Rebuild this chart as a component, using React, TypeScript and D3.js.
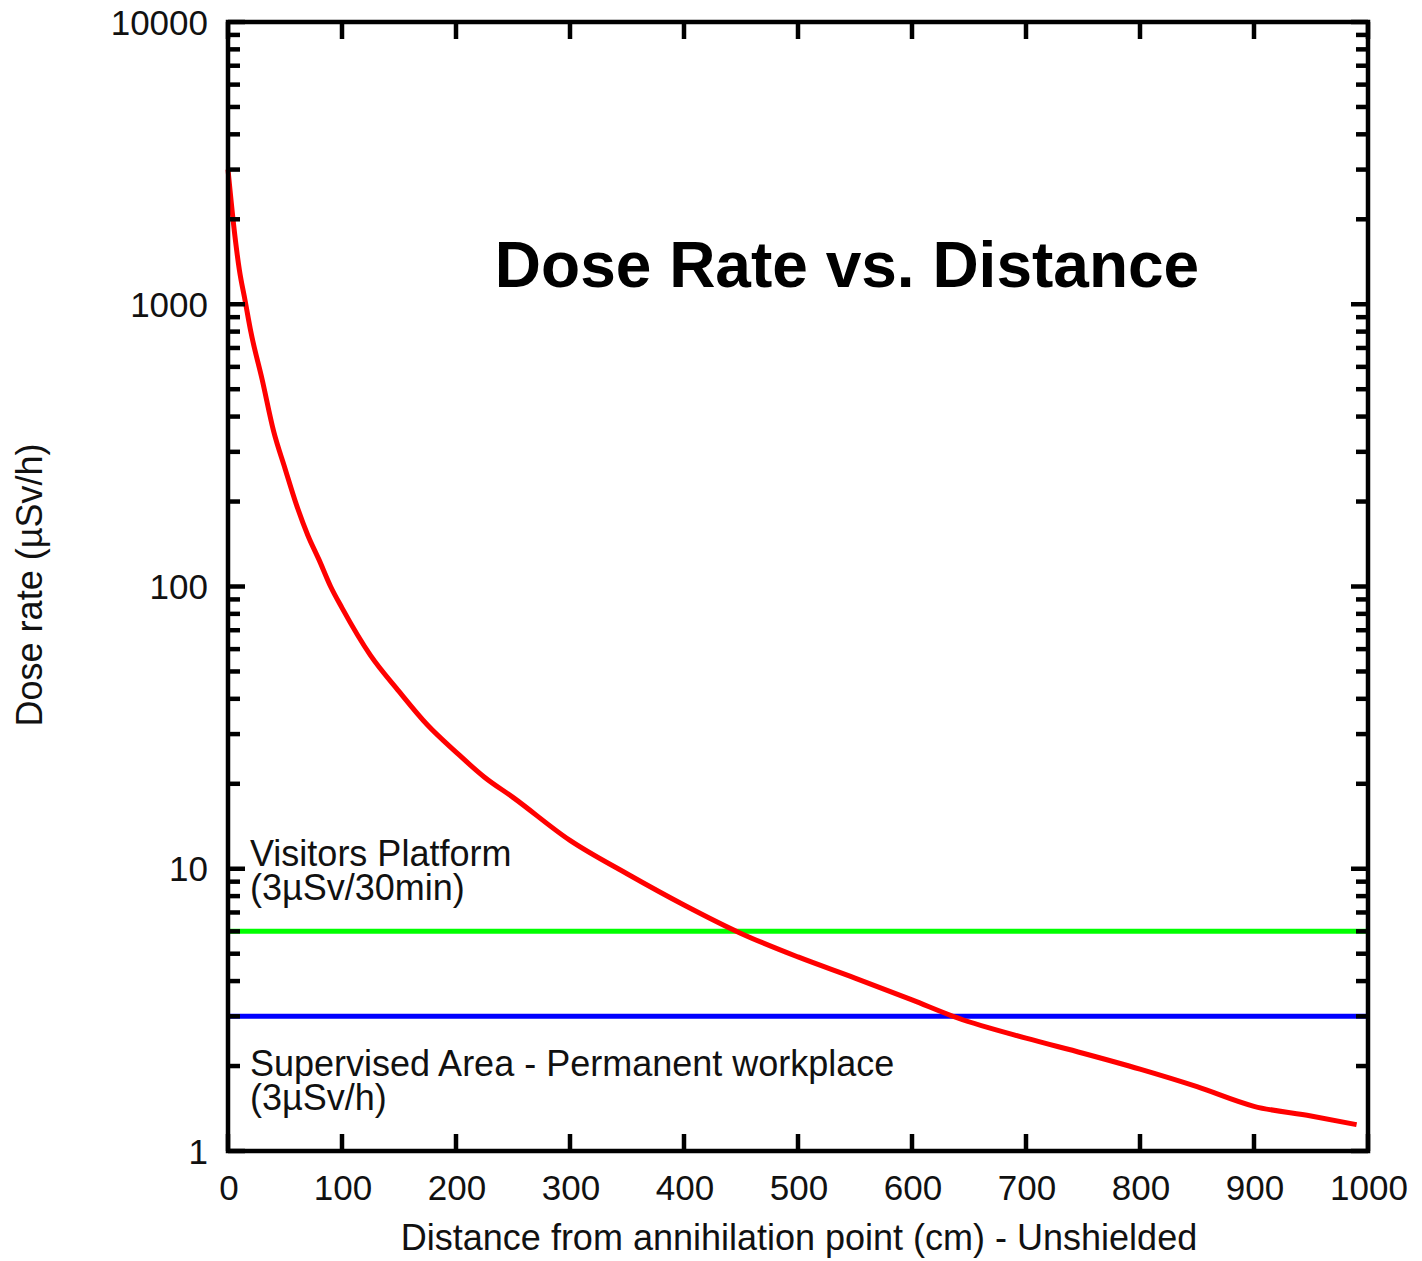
import React, { useEffect, useRef } from "react";
import * as d3 from "d3";

// distance from annihilation point (cm) and dose rate (µSv/h)
const distances = [0, 5, 10, 15, 20, 30, 40, 50, 60, 70, 80, 90, 100, 125, 150, 175, 200, 225, 250, 300, 350, 400, 450, 500, 550, 600, 640, 700, 750, 800, 850, 900, 950, 990];
const doseRates = [3000, 1900, 1320, 1030, 800, 540, 355, 262, 195, 152, 124, 100, 84, 57, 42.5, 32.3, 25.9, 21.1, 17.9, 12.6, 9.6, 7.44, 5.9, 4.87, 4.1, 3.43, 2.96, 2.51, 2.22, 1.95, 1.69, 1.44, 1.33, 1.24];

// horizontal limit lines
const limitNames = ["Visitors Platform", "Supervised Area"];
const limitValues = [6, 3];
const limitColors = ["#00ff00", "#0000ff"];

const xTickValues = [0, 100, 200, 300, 400, 500, 600, 700, 800, 900, 1000];
const yTickValues = [1, 10, 100, 1000, 10000];

const FONT = "'Liberation Sans', Arial, Helvetica, sans-serif";

const App = () => {
  const svgRef = useRef<SVGSVGElement>(null);

  useEffect(() => {
    const width = 1422;
    const height = 1261;
    const margin = { top: 22, right: 54, bottom: 110, left: 228 };

    const svg = d3.select(svgRef.current);
    svg.selectAll("*").remove();

    const x = d3.scaleLinear()
      .domain([0, 1000])
      .range([margin.left, width - margin.right]);

    const y = d3.scaleLog()
      .domain([1, 10000])
      .range([height - margin.bottom, margin.top]);

    const [x0, x1] = x.range();
    const [y0, y1] = y.range();

    // limit lines
    limitValues.forEach((v, i) => {
      svg.append("line")
        .attr("x1", x0).attr("x2", x1)
        .attr("y1", y(v)).attr("y2", y(v))
        .attr("stroke", limitColors[i])
        .attr("stroke-width", 5);
    });

    // dose rate curve
    const line = d3.line<number>()
      .x((d, i) => x(distances[i]))
      .y(d => y(d))
      .curve(d3.curveMonotoneX);

    svg.append("path")
      .datum(doseRates)
      .attr("d", line)
      .attr("fill", "none")
      .attr("stroke", "#ff0000")
      .attr("stroke-width", 5);

    // ticks (inside, on all four sides)
    const ticks = svg.append("g").attr("stroke", "#000").attr("stroke-width", 4.5);
    y.ticks().forEach(t => {
      const major = yTickValues.includes(t);
      const len = major ? 17 : 12;
      ticks.append("line").attr("x1", x0).attr("x2", x0 + len).attr("y1", y(t)).attr("y2", y(t));
      ticks.append("line").attr("x1", x1).attr("x2", x1 - len).attr("y1", y(t)).attr("y2", y(t));
    });
    xTickValues.forEach(t => {
      ticks.append("line").attr("x1", x(t)).attr("x2", x(t)).attr("y1", y0).attr("y2", y0 - 17);
      ticks.append("line").attr("x1", x(t)).attr("x2", x(t)).attr("y1", y1).attr("y2", y1 + 17);
    });

    // frame
    svg.append("rect")
      .attr("x", x0).attr("y", y1)
      .attr("width", x1 - x0).attr("height", y0 - y1)
      .attr("fill", "none")
      .attr("stroke", "#000")
      .attr("stroke-width", 4.5);

    const labels = svg.append("g")
      .attr("font-family", FONT)
      .attr("font-size", 35)
      .attr("fill", "#111");

    labels.selectAll(".ylab")
      .data(yTickValues)
      .enter()
      .append("text")
      .attr("x", 208)
      .attr("y", d => y(d) + 12.5)
      .attr("text-anchor", "end")
      .text(d => String(d));

    labels.selectAll(".xlab")
      .data(xTickValues)
      .enter()
      .append("text")
      .attr("x", d => x(d) + 1)
      .attr("y", 1200)
      .attr("text-anchor", "middle")
      .text(d => String(d));

    // axis titles
    svg.append("text")
      .attr("x", 799)
      .attr("y", 1250)
      .attr("text-anchor", "middle")
      .attr("font-family", FONT)
      .attr("font-size", 36)
      .attr("fill", "#111")
      .text("Distance from annihilation point (cm) - Unshielded");

    svg.append("text")
      .attr("transform", "translate(42,585) rotate(-90)")
      .attr("text-anchor", "middle")
      .attr("font-family", FONT)
      .attr("font-size", 36)
      .attr("fill", "#111")
      .text("Dose rate (µSv/h)");

    // chart title
    svg.append("text")
      .attr("x", 847)
      .attr("y", 287)
      .attr("text-anchor", "middle")
      .attr("font-family", FONT)
      .attr("font-size", 64)
      .attr("font-weight", "bold")
      .attr("fill", "#000")
      .text("Dose Rate vs. Distance");

    // annotations for the limit lines
    const notes = [
      [limitNames[0], "(3µSv/30min)"],
      [limitNames[1] + " - Permanent workplace", "(3µSv/h)"],
    ];
    const noteY = [866, 1076];
    notes.forEach((lines, i) => {
      const t = svg.append("text")
        .attr("font-family", FONT)
        .attr("font-size", 36)
        .attr("fill", "#111");
      lines.forEach((s, j) => {
        t.append("tspan")
          .attr("x", 250)
          .attr("y", noteY[i] + j * 34)
          .text(s);
      });
    });
  }, []);

  return (
    <svg
      ref={svgRef}
      width={1422}
      height={1261}
      style={{ position: "absolute", left: 0, top: 0, background: "#fff" }}
    />
  );
};

export default App;
